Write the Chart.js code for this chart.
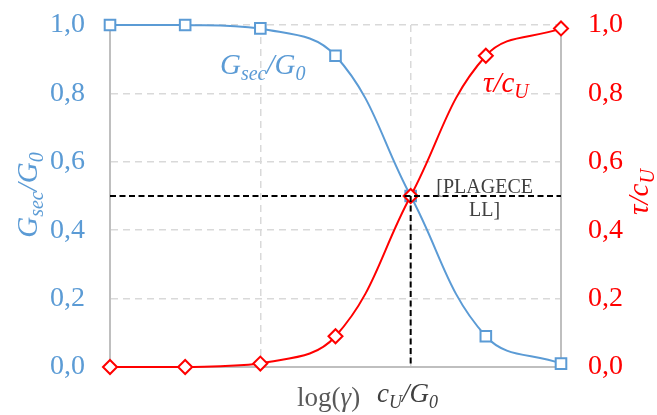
<!DOCTYPE html>
<html>
<head>
<meta charset="utf-8">
<script src="https://cdn.jsdelivr.net/npm/chart.js@4.4.1/dist/chart.umd.min.js"></script>
<style>
body { margin: 0; background: #fff; }
#wrap { width: 657px; height: 415px; position: relative; }
</style>
</head>
<body>
<div id="wrap"><canvas id="myChart"></canvas></div>
<script>
const ctx = document.getElementById('myChart');

// log(gamma) steps along x
const xSteps = [0, 1, 2, 3, 4, 5, 6];
const gsecValues = [1.0, 1.0, 0.99, 0.91, 0.5, 0.09, 0.01];
const tauValues = [0.0, 0.0, 0.01, 0.09, 0.5, 0.91, 0.99];
const yTicks = [0, 0.2, 0.4, 0.6, 0.8, 1.0];
const xGrid = [0, 2, 4, 6];
// dashed guide through the crossing point
const crossX = 4;
const crossY = 0.5;
const pointLabel = ['[PLAGECE', 'LL]'];

const blue = '#5B9BD5';
const red = '#FF0000';
const serif = '"Liberation Serif", "DejaVu Serif", serif';

function pts(vals) {
  var out = [];
  for (var i = 0; i < xSteps.length; i++) out.push({x: xSteps[i], y: vals[i]});
  return out;
}

// draw text with subscripts, parts = [[text, isSub], ...]
function richText(c, parts, x, y, size, color, italic, align) {
  var st = italic ? 'italic ' : '';
  var font = st + size + 'px ' + serif;
  var subFont = st + Math.round(size * 0.68) + 'px ' + serif;
  var w = 0;
  for (var p of parts) { c.font = p[1] ? subFont : font; w += c.measureText(p[0]).width; }
  var cx = align == 'center' ? x - w / 2 : x;
  c.fillStyle = color;
  c.textAlign = 'left';
  c.textBaseline = 'alphabetic';
  for (var p of parts) {
    c.font = p[1] ? subFont : font;
    c.fillText(p[0], cx, y + (p[1] ? size * 0.22 : 0));
    cx += c.measureText(p[0]).width;
  }
}

const gsecLabel = [['G', false], ['sec', true], ['/G', false], ['0', true]];
const tauLabel = [['\u03C4/c', false], ['U', true]];
const cuLabel = [['c', false], ['U', true], ['/G', false], ['0', true]];

const textPlugin = {
  id: 'texts',
  afterDraw(chart) {
    var c = chart.ctx;
    c.save();
    // axis titles (rotated)
    c.save();
    c.translate(37, 195);
    c.rotate(-Math.PI / 2);
    richText(c, gsecLabel, 0, 0, 29, blue, true, 'center');
    c.restore();
    c.save();
    c.translate(648, 192);
    c.rotate(-Math.PI / 2);
    richText(c, tauLabel, 0, 0, 29, red, true, 'center');
    c.restore();
    // series labels inside plot
    richText(c, gsecLabel, 220, 74, 29, blue, true, 'left');
    richText(c, tauLabel, 483, 92, 29, red, true, 'left');
    // x axis title
    c.font = '27px ' + serif;
    c.fillStyle = '#595959';
    c.textAlign = 'left';
    c.textBaseline = 'alphabetic';
    c.fillText('log(', 297, 406);
    var w1 = c.measureText('log(').width;
    c.font = 'italic 27px ' + serif;
    c.fillText('\u03B3', 297 + w1, 406);
    var w2 = c.measureText('\u03B3').width;
    c.font = '27px ' + serif;
    c.fillText(')', 297 + w1 + w2, 406);
    richText(c, cuLabel, 377, 402, 27, '#404040', true, 'left');
    // data label at crossing
    var xs = chart.scales.x, ys = chart.scales.y;
    var px = xs.getPixelForValue(crossX) + 74;
    var py = ys.getPixelForValue(crossY);
    c.font = '20px ' + serif;
    c.fillStyle = '#404040';
    c.textAlign = 'center';
    c.fillText(pointLabel[0], px, py - 3);
    c.fillText(pointLabel[1], px, py + 20);
    c.restore();
  }
};

function tickFmt(v) { return v.toFixed(1).replace('.', ','); }

function fitY(w) {
  return function(s) {
    s.width = w;
    s.paddingTop = 0;
    s.paddingBottom = 0;
  };
}

new Chart(ctx, {
  type: 'scatter',
  data: {
    datasets: [
      {
        data: [{x: xSteps[0], y: crossY}, {x: xSteps[xSteps.length - 1], y: crossY}],
        showLine: true, borderColor: '#000', borderWidth: 2, borderDash: [6, 3.5],
        pointRadius: 0, yAxisID: 'y', clip: false
      },
      {
        data: [{x: crossX, y: crossY}, {x: crossX, y: 0}],
        showLine: true, borderColor: '#000', borderWidth: 2, borderDash: [6, 3.5],
        pointRadius: 0, yAxisID: 'y', clip: false
      },
      {
        data: pts(tauValues), showLine: true, tension: 0.4,
        borderColor: red, borderWidth: 2,
        pointStyle: 'rectRot', pointRadius: 7, pointBorderWidth: 2,
        pointBackgroundColor: '#fff', pointBorderColor: red,
        yAxisID: 'y2', clip: false
      },
      {
        data: pts(gsecValues), showLine: true, tension: 0.4,
        borderColor: blue, borderWidth: 2,
        pointStyle: 'rect', pointRadius: 7.5, pointBorderWidth: 2,
        pointBackgroundColor: '#fff', pointBorderColor: blue,
        yAxisID: 'y', clip: false
      }
    ]
  },
  options: {
    animation: false,
    responsive: true,
    maintainAspectRatio: false,
    layout: { padding: { top: 25, left: 0, right: 0, bottom: 0 } },
    plugins: { legend: { display: false }, tooltip: { enabled: false } },
    scales: {
      x: {
        type: 'linear', min: 0, max: 6,
        afterBuildTicks: s => { s.ticks = xGrid.map(v => ({value: v})); },
        afterFit: s => { s.height = 48; s.paddingLeft = 0; s.paddingRight = 0; },
        ticks: { display: false },
        grid: { color: '#D9D9D9', lineWidth: 1.5, drawTicks: false },
        border: { display: true, color: '#BFBFBF', width: 2, dash: [7, 5] }
      },
      y: {
        position: 'left', min: 0, max: 1,
        afterBuildTicks: s => { s.ticks = yTicks.map(v => ({value: v})); },
        afterFit: fitY(110),
        ticks: { color: blue, padding: 25, font: { family: serif, size: 28 }, callback: tickFmt },
        grid: { color: '#D9D9D9', lineWidth: 1.5, drawTicks: false },
        border: { display: true, color: '#BFBFBF', width: 2, dash: [7, 5] }
      },
      y2: {
        position: 'right', min: 0, max: 1,
        afterBuildTicks: s => { s.ticks = yTicks.map(v => ({value: v})); },
        afterFit: fitY(96),
        ticks: { color: red, padding: 27, font: { family: serif, size: 28 }, callback: tickFmt },
        grid: { drawOnChartArea: false, drawTicks: false },
        border: { display: true, color: '#BFBFBF', width: 2 }
      }
    }
  },
  plugins: [textPlugin]
});
</script>
</body>
</html>
